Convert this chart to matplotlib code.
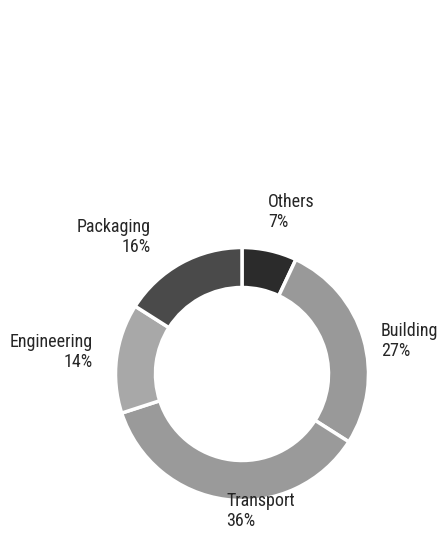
import matplotlib
matplotlib.use("Agg")
import matplotlib.pyplot as plt

# Market share by application sector
sectors = ["Others", "Building", "Transport", "Engineering", "Packaging"]
shares = [7, 27, 36, 14, 16]

colors = ["#2b2b2b", "#999999", "#9a9a9a", "#a8a8a8", "#4a4a4a"]

W, H = 440, 543
fig = plt.figure(figsize=(W / 100, H / 100), dpi=100)
ax = fig.add_axes([0, 0, 1, 1])
ax.set_xlim(0, W)
ax.set_ylim(0, H)
ax.set_aspect("equal")
ax.axis("off")

center = (242, H - 374)
sep = 2.5  # white separator width, points
ax.pie(shares, colors=colors, startangle=90, counterclock=False,
       center=center, radius=126.5,
       wedgeprops=dict(width=40, edgecolor="white", linewidth=sep))
ax.set_xlim(0, W)
ax.set_ylim(0, H)

# label anchors (x, baseline of first line) in pixel space, with alignment
label_pos = [(268, 227, "left"), (381, 356, "left"), (226, 526, "left"),
             (93, 367, "right"), (151, 252, "right")]

font = ["Roboto Condensed", "Lato", "DejaVu Sans"]
for name, val, (x, y, ha) in zip(sectors, shares, label_pos):
    ax.text(x, H - y, f"{name}\n{val}%", ha=ha, va="baseline",
            multialignment=ha, fontsize=13, family=font,
            fontstretch="condensed", color="#262626", linespacing=1.13)

fig.savefig("out.png", dpi=100)
